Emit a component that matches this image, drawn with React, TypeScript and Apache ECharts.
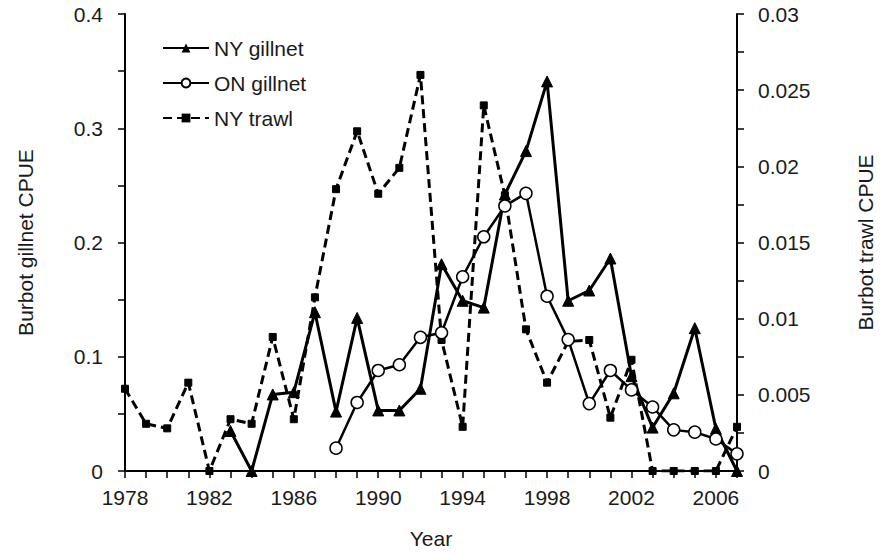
import React, { useEffect, useRef } from "react";
import * as echarts from "echarts";

const years: string[] = [
  "1978","1979","1980","1981","1982","1983","1984","1985","1986","1987",
  "1988","1989","1990","1991","1992","1993","1994","1995","1996","1997",
  "1998","1999","2000","2001","2002","2003","2004","2005","2006","2007",
];

const nyGillnet: (number | null)[] = [
  null, null, null, null, null, 0.035, 0.0, 0.067, 0.069, 0.139,
  0.052, 0.134, 0.053, 0.053, 0.072, 0.181, 0.149, 0.143, 0.242, 0.28,
  0.341, 0.149, 0.158, 0.186, 0.083, 0.038, 0.068, 0.125, 0.037, 0.0,
];

const onGillnet: (number | null)[] = [
  null, null, null, null, null, null, null, null, null, null,
  0.02, 0.06, 0.088, 0.093, 0.117, 0.121, 0.17, 0.205, 0.232, 0.243,
  0.153, 0.115, 0.059, 0.088, 0.071, 0.056, 0.036, 0.034, 0.028, 0.015,
];

const nyTrawl: number[] = [
  0.0054, 0.0031, 0.0028, 0.0058, 0.0, 0.0034, 0.0031, 0.0088, 0.0034, 0.0114,
  0.0185, 0.0223, 0.0182, 0.0199, 0.026, 0.0086, 0.0029, 0.024, 0.0181, 0.0093,
  0.0058, 0.0085, 0.0086, 0.0035, 0.0073, 0.0, 0.0, 0.0, 0.0, 0.0029,
];

const FONT = "'Liberation Sans', Arial, sans-serif";
const TXT = "#1a1a1a";

export default function App() {
  const ref = useRef<HTMLDivElement>(null);
  useEffect(() => {
    if (!ref.current) return;
    const chart = echarts.init(ref.current, null, { renderer: "svg" });
    const axisLine = { show: true, lineStyle: { color: "#000", width: 2 } };
    const tick = { show: true, inside: false, length: 7, lineStyle: { color: "#000", width: 1.5 } };
    chart.setOption({
      animation: false,
      backgroundColor: "#fff",
      textStyle: { fontFamily: FONT, color: TXT },
      grid: { left: 125, right: 140, top: 14, bottom: 81 },
      legend: {
        orient: "vertical",
        left: 157,
        top: 32,
        itemWidth: 46,
        itemHeight: 11,
        itemGap: 13,
        textStyle: { fontFamily: FONT, fontSize: 21, color: TXT, lineHeight: 22 },
        data: ["NY gillnet", "ON gillnet", "NY trawl"],
      },
      xAxis: {
        type: "category",
        data: years,
        boundaryGap: false,
        name: "Year",
        nameLocation: "middle",
        nameGap: 57,
        nameTextStyle: { fontFamily: FONT, fontSize: 21, color: TXT },
        axisLine,
        axisTick: { ...tick, interval: 0 },
        axisLabel: { interval: 3, margin: 16, fontFamily: FONT, fontSize: 21, color: TXT },
        splitLine: { show: false },
      },
      yAxis: [
        {
          type: "value",
          min: 0,
          max: 0.4,
          interval: 0.1,
          position: "left",
          name: "Burbot gillnet CPUE",
          nameLocation: "middle",
          nameRotate: 90,
          nameGap: 89,
          nameTextStyle: { fontFamily: FONT, fontSize: 21, color: TXT },
          axisLine,
          axisTick: tick,
          minorTick: { show: true, splitNumber: 2, length: 7, lineStyle: { color: "#000", width: 1.5 } },
          axisLabel: { margin: 22, fontFamily: FONT, fontSize: 21, color: TXT, formatter: (v: number) => String(Number(v.toFixed(2))) },
          splitLine: { show: false },
        },
        {
          type: "value",
          min: 0,
          max: 0.03,
          interval: 0.005,
          position: "right",
          name: "Burbot trawl CPUE",
          nameLocation: "middle",
          nameRotate: 90,
          nameGap: 118,
          nameTextStyle: { fontFamily: FONT, fontSize: 21, color: TXT },
          axisLine,
          axisTick: tick,
          minorTick: { show: true, splitNumber: 2, length: 7, lineStyle: { color: "#000", width: 1.5 } },
          axisLabel: { margin: 21, fontFamily: FONT, fontSize: 21, color: TXT, formatter: (v: number) => String(Number(v.toFixed(4))) },
          splitLine: { show: false },
        },
      ],
      series: [
        {
          name: "NY trawl",
          type: "line",
          yAxisIndex: 1,
          data: nyTrawl,
          symbol: "rect",
          symbolSize: 7,
          lineStyle: { color: "#000", width: 3, type: [9, 5] },
          itemStyle: { color: "#000", borderColor: "#000" },
          z: 2,
        },
        {
          name: "NY gillnet",
          type: "line",
          yAxisIndex: 0,
          data: nyGillnet,
          symbol: "triangle",
          symbolSize: 11,
          lineStyle: { color: "#000", width: 3 },
          itemStyle: { color: "#000", borderColor: "#000" },
          z: 3,
        },
        {
          name: "ON gillnet",
          type: "line",
          yAxisIndex: 0,
          data: onGillnet,
          symbol: "circle",
          symbolSize: 12,
          lineStyle: { color: "#000", width: 2.5 },
          itemStyle: { color: "#fff", borderColor: "#000", borderWidth: 1.5 },
          z: 4,
        },
      ],
    });
    return () => chart.dispose();
  }, []);
  return <div ref={ref} style={{ width: 884, height: 554, position: "absolute", left: 0, top: 0 }} />;
}
